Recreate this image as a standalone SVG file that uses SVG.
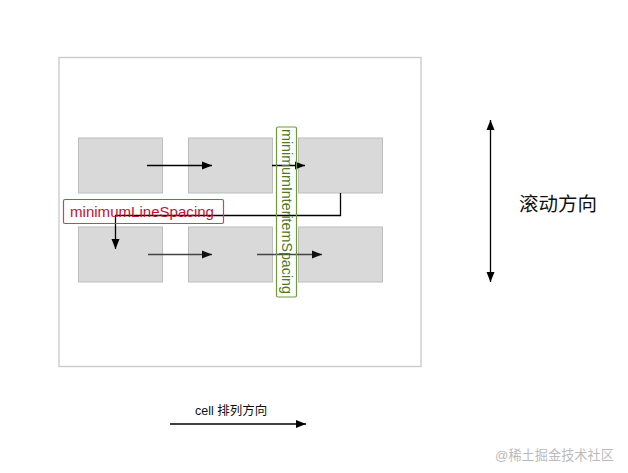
<svg xmlns="http://www.w3.org/2000/svg" width="628" height="473" viewBox="0 0 628 473">
<defs>
<marker id="ah" viewBox="0 0 10 10" refX="10" refY="5" markerWidth="10" markerHeight="10" markerUnits="userSpaceOnUse" orient="auto-start-reverse">
<path d="M0,1 L10,5 L0,9 Z" fill="#000"/>
</marker>
<marker id="ahg" viewBox="0 0 10 10" refX="10" refY="5" markerWidth="10" markerHeight="10" markerUnits="userSpaceOnUse" orient="auto">
<path d="M0,1 L10,5 L0,9 Z" fill="#111"/>
</marker>
</defs>
<style>
.cell{fill:#d9d9d9;stroke:#bdbdbd;stroke-width:1}
.ln{stroke:#000;stroke-width:1.3;fill:none}
.lg{stroke:#444;stroke-width:1.6;fill:none}
.t{font-family:"Liberation Sans","Noto Sans CJK SC",sans-serif}
</style>
<rect width="628" height="473" fill="#fff"/>
<g id="frame"><rect x="59" y="57.5" width="362" height="309" fill="#fff" stroke="#c8c8c8" stroke-width="1.3"/></g>
<g id="cell1"><rect class="cell" x="78.5" y="138" width="84" height="55"/></g>
<g id="cell2"><rect class="cell" x="188.5" y="138" width="84" height="55"/></g>
<g id="cell3"><rect class="cell" x="298.5" y="138" width="84" height="55"/></g>
<g id="cell4"><rect class="cell" x="78.5" y="227" width="84" height="55"/></g>
<g id="cell5"><rect class="cell" x="188.5" y="227" width="84" height="55"/></g>
<g id="cell6"><rect class="cell" x="298.5" y="227" width="84" height="55"/></g>
<g id="connectors">
<line class="ln" x1="147" y1="165.5" x2="212" y2="165.5" marker-end="url(#ah)"/>
<line class="ln" x1="272" y1="165.5" x2="305" y2="165.5" marker-end="url(#ah)"/>
<line class="lg" x1="148" y1="254.5" x2="212" y2="254.5" marker-end="url(#ahg)"/>
<line class="lg" x1="257" y1="254.5" x2="322" y2="254.5" marker-end="url(#ahg)"/>
<polyline class="ln" points="340.5,193 340.5,215.5 115.5,215.5 115.5,249" marker-end="url(#ah)"/>
<line class="ln" x1="490.5" y1="120" x2="490.5" y2="282" marker-start="url(#ah)" marker-end="url(#ah)"/>
<line class="ln" x1="170" y1="424" x2="306" y2="424" marker-end="url(#ah)"/>
</g>
<g id="lineSpacing">
<rect x="63.5" y="199.5" width="160" height="24" rx="1.5" fill="none" stroke="#d0405a" stroke-width="1.2"/>
<text class="t" x="70" y="216.5" font-size="14" fill="#c8102e" textLength="144" lengthAdjust="spacingAndGlyphs">minimumLineSpacing</text>
</g>
<g id="interitemSpacing">
<rect x="276.5" y="127" width="20" height="170" rx="1.5" fill="none" stroke="#6f9a3a" stroke-width="1.2"/>
<text class="t" transform="translate(281.5,129) rotate(90)" font-size="14" fill="#4f7a1e" textLength="165" lengthAdjust="spacingAndGlyphs">minimumInteritemSpacing</text>
</g>
<g id="scrollLabel"><text class="t" x="519" y="211" font-size="19.5" fill="#111">滚动方向</text></g>
<g id="cellLabel"><text class="t" x="195" y="415" font-size="12.5" fill="#111">cell 排列方向</text></g>
<text class="t" x="495" y="460" font-size="13.2" fill="#bbbbbb">@稀土掘金技术社区</text>
</svg>
